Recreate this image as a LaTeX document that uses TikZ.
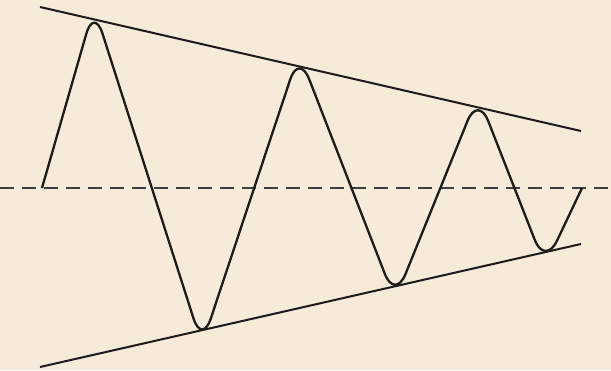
\documentclass[tikz,border=0pt]{standalone}
\usetikzlibrary{calc}
\definecolor{paperBeige}{HTML}{F6EAD8}
\definecolor{inkBlack}{HTML}{1C1C1C}

\begin{document}
\begin{tikzpicture}[x=1pt,y=-1pt,
      env/.style={draw=inkBlack, line width=2pt},
      wave/.style={draw=inkBlack, line width=2.3pt, rounded corners=28pt, line join=round},
      axis/.style={draw=inkBlack!85, line width=1.8pt, dash pattern=on 14pt off 8pt}]
    \fill[paperBeige] (0,0) rectangle (611,370);
    \useasboundingbox (0,0) rectangle (611,370);
    % envelope and axis
    \coordinate (tl) at (40,7);
    \coordinate (tr) at (581,131);
    \coordinate (bl) at (40,367);
    \coordinate (br) at (581,244);
    \coordinate (al) at (0,188);
    \coordinate (ar) at (611,188);
    \draw[env] (tl) -- (tr);
    \draw[env] (bl) -- (br);
    \draw[axis] (al) -- (ar);
    % the oscillation
    \coordinate (s)  at (42,188);
    \coordinate (p1) at (94,7);
    \coordinate (t1) at (202,345);
    \coordinate (p2) at (299,53);
    \coordinate (t2) at (395,300);
    \coordinate (p3) at (478,95);
    \coordinate (t3) at (545,266);
    \coordinate (e)  at (582,188);
    \draw[wave] (s) -- (p1) -- (t1) -- (p2) -- (t2) -- (p3) -- (t3) -- (e);
  \end{tikzpicture}
\end{document}
